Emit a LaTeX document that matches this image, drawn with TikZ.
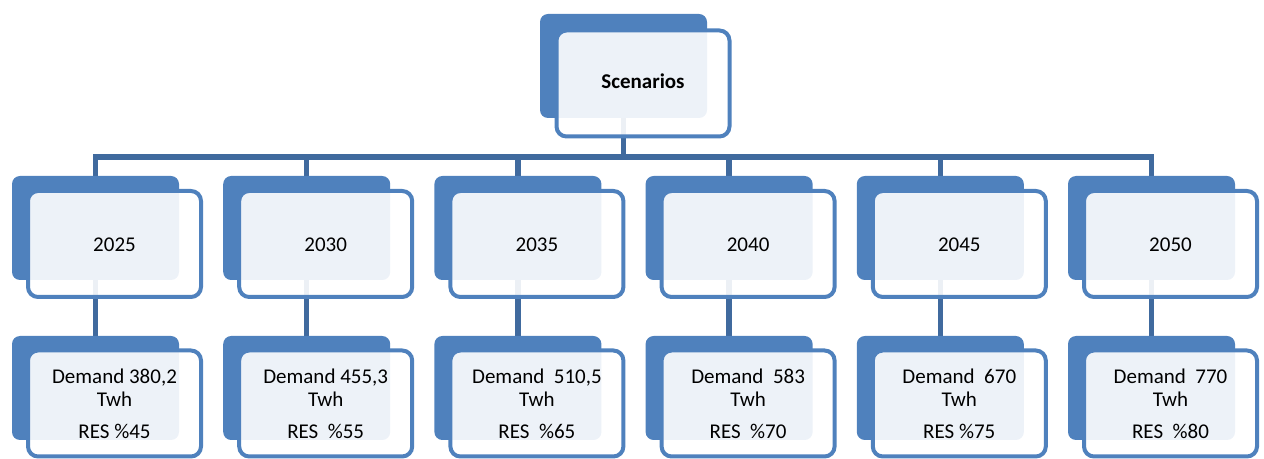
\documentclass[tikz,border=0pt]{standalone}
\usepackage{fontspec}
\setmainfont{Carlito}
\usetikzlibrary{backgrounds}
\definecolor{accent}{RGB}{79,129,189}
\definecolor{connc}{RGB}{64,106,158}
\begin{document}
\begin{tikzpicture}[x=0.5pt,y=-0.5pt,
  backbox/.style={fill=accent, draw=none, rounded corners=4pt, minimum width=83.5pt, minimum height=52pt, inner sep=0pt, outer sep=0pt},
  frontbox/.style={fill=white, fill opacity=0.9, draw=accent, line width=2pt, rounded corners=5pt, minimum width=86.5pt, minimum height=53pt, inner sep=0pt, outer sep=0pt},
  connector/.style={draw=connc, line width=2.75pt},
  lbl/.style={font=\fontsize{10.5}{12}\selectfont, inner sep=0pt, anchor=base},
]
\useasboundingbox (0,0) rectangle (1264,459);
% root
\node[backbox] (sb) at (623.5,66) {};
\node[frontbox] (sf) at (643,83.5) {};
\node[lbl, font=\fontsize{10.5}{12}\selectfont\bfseries] (st) at (643,89) {Scenarios};
\coordinate (bar) at (623,157);
\foreach \i/\yr/\dem/\res in {
  0/2025/{Demand 380,2}/{RES \%45},
  1/2030/{Demand 455,3}/{RES\ \ \%55},
  2/2035/{Demand\ \ 510,5}/{RES\ \ \%65},
  3/2040/{Demand\ \ 583}/{RES\ \ \%70},
  4/2045/{Demand\ \ 670}/{RES \%75},
  5/2050/{Demand\ \ 770}/{RES\ \ \%80}} {
  \pgfmathsetmacro{\bx}{95.5+211.2*\i}
  \pgfmathsetmacro{\fx}{114.5+211.2*\i}
  \node[backbox] (tb\i) at (\bx,228) {};
  \node[frontbox] (tf\i) at (\fx,244) {};
  \node[lbl] (tt\i) at (\fx,252) {\yr};
  \node[backbox] (bb\i) at (\bx,388) {};
  \node[frontbox] (bf\i) at (\fx,403.5) {};
  \node[lbl] (bd\i) at (\fx,384) {\dem};
  \node[lbl] (bt\i) at (\fx,407) {Twh};
  \node[lbl] (br\i) at (\fx,439) {\res};
  \begin{scope}[on background layer]
    \draw[connector] (sb.center) -- (sb.center |- bar) -| (tb\i.center);
    \draw[connector] (tb\i.center) -- (bb\i.center);
  \end{scope}
}
\end{tikzpicture}
\end{document}
